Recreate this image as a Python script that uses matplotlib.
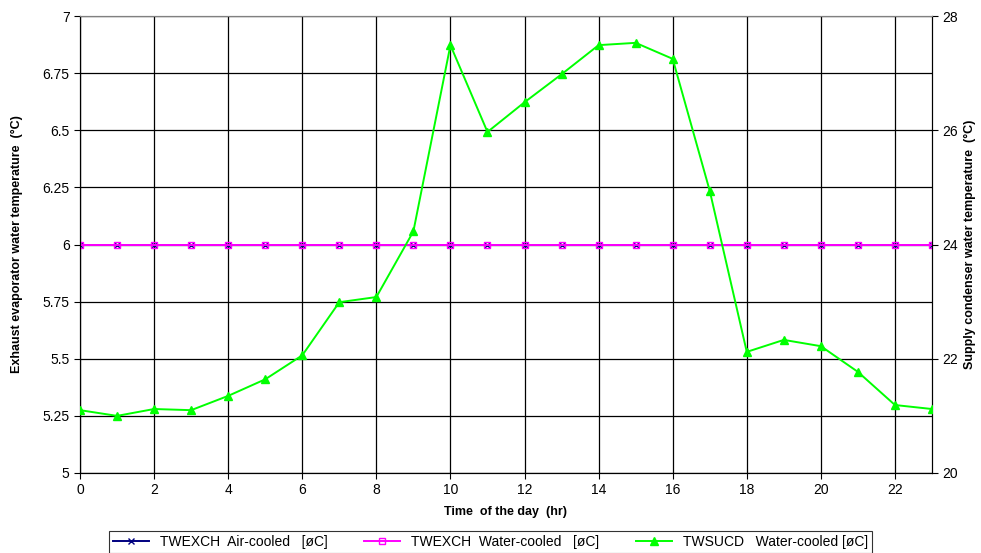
import numpy as np
import matplotlib.pyplot as plt
from matplotlib.ticker import FuncFormatter

plt.rcParams['font.family'] = ['Liberation Sans', 'DejaVu Sans']

# data
hours = list(range(24))
twexch_air = [6.0] * 24
twexch_water = [6.0] * 24
twsucd_water = [21.10, 21.00, 21.12, 21.10, 21.35, 21.64, 22.06, 22.99, 23.08, 24.23,
                27.49, 25.97, 26.49, 26.98, 27.49, 27.53, 27.25, 24.94, 22.12, 22.33,
                22.22, 21.77, 21.19, 21.12]

left_ticks = [5, 5.25, 5.5, 5.75, 6, 6.25, 6.5, 6.75, 7]
right_ticks = [20, 22, 24, 26, 28]
x_ticks = list(range(0, 24, 2))

fig = plt.figure(figsize=(9.81, 5.53), dpi=100)
ax = fig.add_axes([80 / 981, 1 - 473 / 553, (932 - 80) / 981, (473 - 16) / 553])
ax2 = ax.twinx()

l1, = ax.plot(hours, twexch_air, color='#000080', marker='x', markersize=5, lw=1.4,
              label='TWEXCH  Air-cooled   [øC]', zorder=3)
l2, = ax.plot(hours, twexch_water, color='#ff00ff', marker='s', markersize=5,
              markerfacecolor='none', lw=1.4, label='TWEXCH  Water-cooled   [øC]', zorder=4)
l3, = ax2.plot(hours, twsucd_water, color='#00ff00', marker='^', markersize=6, lw=1.4,
               label='TWSUCD   Water-cooled [øC]', zorder=3)

ax.set_xlim(0, 23)
ax.set_ylim(5, 7)
ax2.set_ylim(20, 28)
ax.set_xticks(x_ticks)
ax.set_yticks(left_ticks)
ax.yaxis.set_major_formatter(FuncFormatter(lambda v, p: ('%g' % v)))
ax2.set_yticks(right_ticks)

ax.grid(True, color='black', lw=0.9)
ax.spines['top'].set_color('#808080')
ax2.spines['top'].set_color('#808080')
ax.tick_params(labelsize=10, direction='out', length=4)
ax2.tick_params(labelsize=10, direction='out', length=4)

ax.set_xlabel('Time  of the day  (hr)', fontsize=9, fontweight='bold', labelpad=6)
ax.set_ylabel('Exhaust evaporator water temperature  (°C)', fontsize=9, fontweight='bold', labelpad=14)
ax2.set_ylabel('Supply condenser water temperature  (°C)', fontsize=9, fontweight='bold', labelpad=4)

leg = fig.legend(handles=[l1, l2, l3], loc='upper center', bbox_to_anchor=(0.5, 1 - 531 / 553),
                 ncol=3, fontsize=10, frameon=True, fancybox=False, edgecolor='black',
                 borderaxespad=0, handlelength=2.6, columnspacing=2.6, borderpad=0.3)
leg.get_frame().set_linewidth(0.8)

fig.savefig('out.png', dpi=100)
